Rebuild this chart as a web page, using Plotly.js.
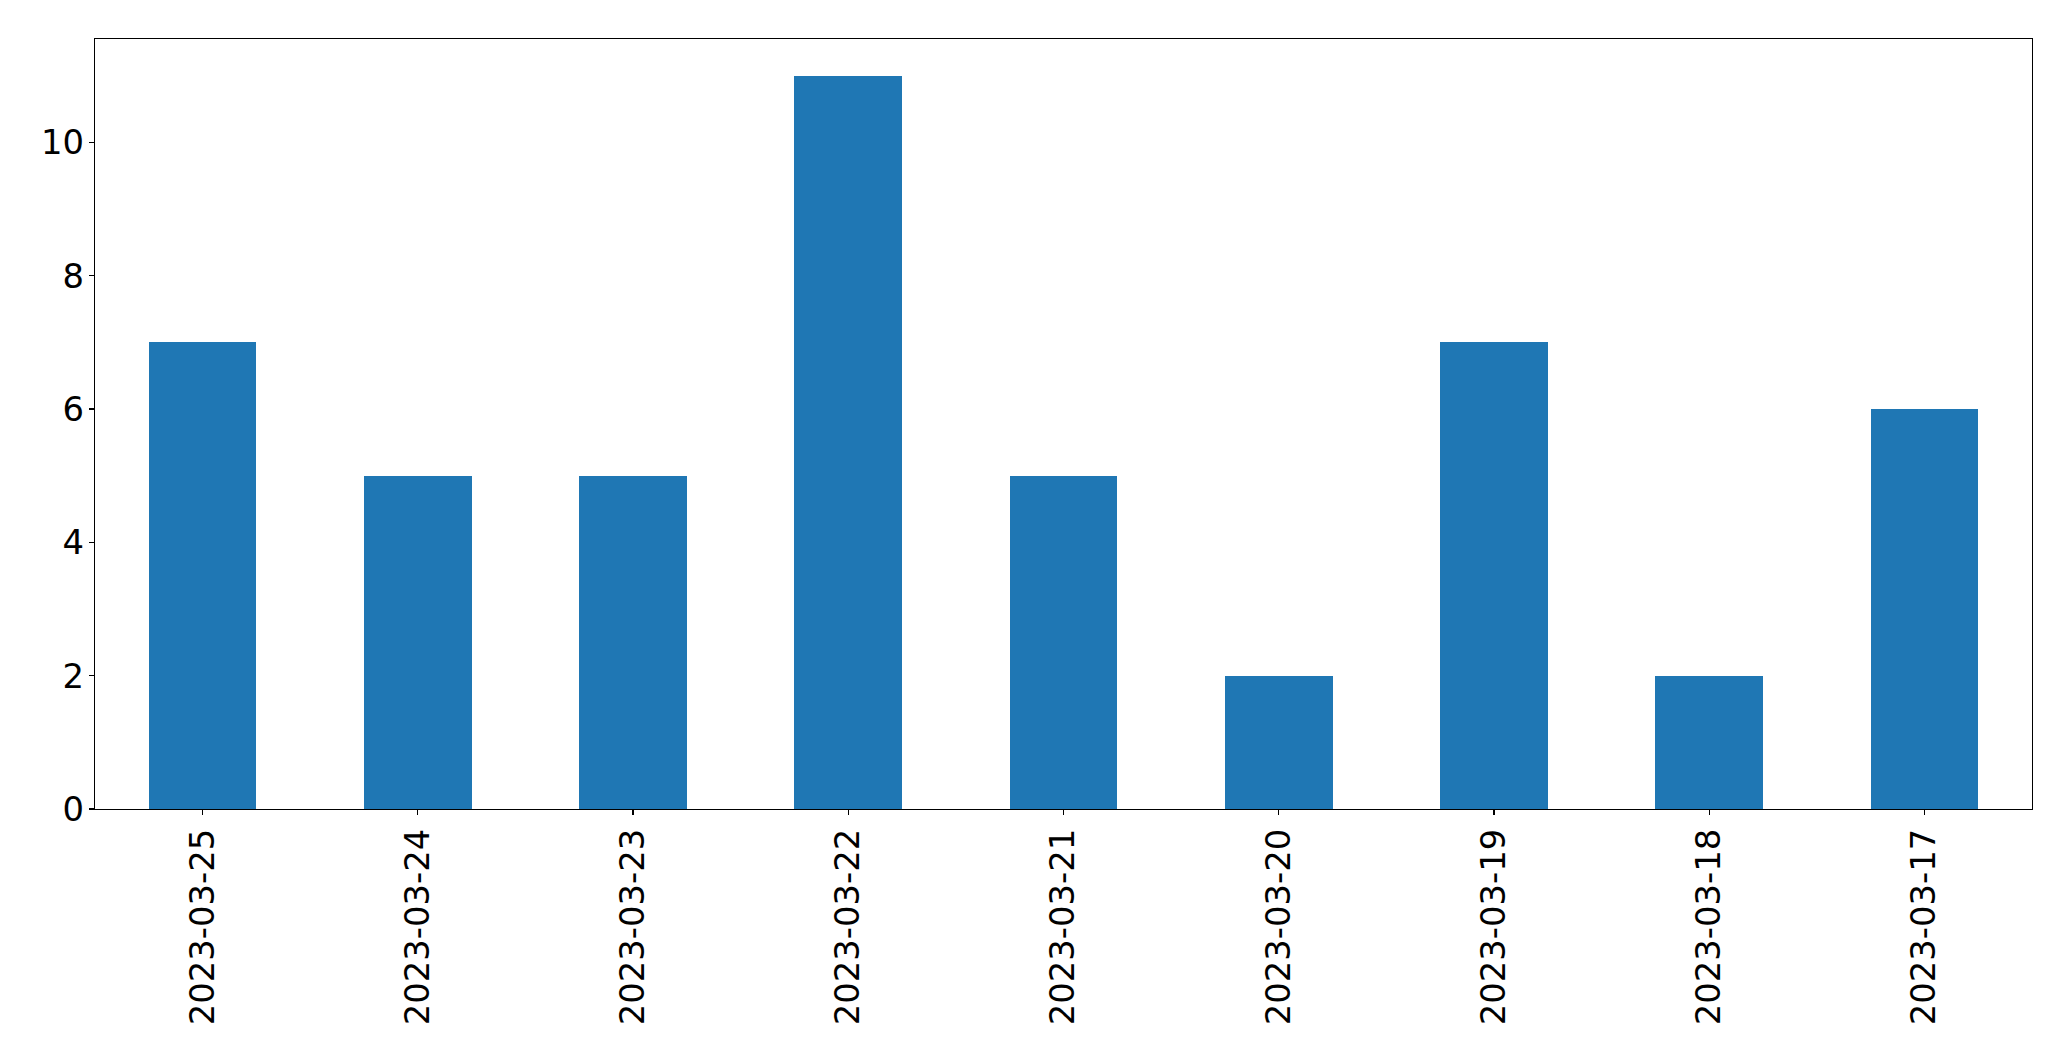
<!DOCTYPE html>
<html>
<head>
<meta charset="utf-8">
<script src="https://cdn.plot.ly/plotly-3.0.1.min.js"></script>
<style>
html, body { margin: 0; padding: 0; background: #fff; }
#chart { width: 2071px; height: 1061px; }
</style>
</head>
<body>
<div id="chart"></div>
<script>
const dates = ["2023-03-25", "2023-03-24", "2023-03-23", "2023-03-22", "2023-03-21", "2023-03-20", "2023-03-19", "2023-03-18", "2023-03-17"];
const counts = [7, 5, 5, 11, 5, 2, 7, 2, 6];
const yTicks = [0, 2, 4, 6, 8, 10];

const trace = {
  type: "bar",
  x: dates,
  y: counts,
  width: 0.5,
  marker: { color: "#1f77b4", line: { width: 0 } },
  hoverinfo: "x+y"
};

const font = { family: "DejaVu Sans, sans-serif", size: 33.8, color: "#000" };

const layout = {
  width: 2071,
  height: 1061,
  margin: { l: 95, r: 39, t: 39, b: 252, pad: 0 },
  paper_bgcolor: "#fff",
  plot_bgcolor: "#fff",
  showlegend: false,
  bargap: 0,
  xaxis: {
    type: "category",
    range: [-0.5, dates.length - 0.5],
    tickangle: -90,
    tickfont: font,
    ticks: "outside",
    ticklen: 5,
    tickwidth: 1.3,
    tickcolor: "#000",
    showline: true,
    linecolor: "#000",
    linewidth: 1.3,
    mirror: true,
    showgrid: false,
    zeroline: false,
    automargin: false
  },
  yaxis: {
    range: [0, 11.55],
    tickmode: "array",
    tickvals: yTicks,
    ticktext: yTicks.map(String),
    tickfont: font,
    ticks: "outside",
    ticklen: 5,
    tickwidth: 1.3,
    tickcolor: "#000",
    ticklabelstandoff: -2,
    showline: true,
    linecolor: "#000",
    linewidth: 1.3,
    mirror: true,
    showgrid: false,
    zeroline: false,
    automargin: false
  }
};

Plotly.newPlot("chart", [trace], layout, { displayModeBar: false, staticPlot: true });
</script>
</body>
</html>
